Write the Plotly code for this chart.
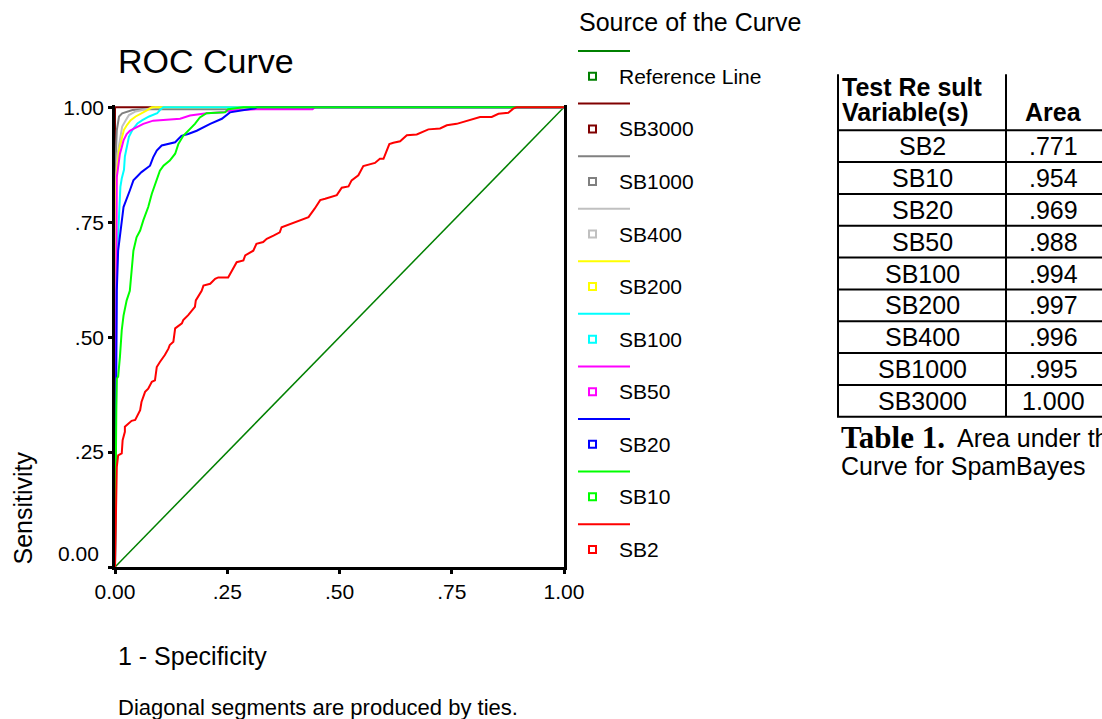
import plotly.graph_objects as go

# ---------------- data ----------------
series_names = ["Reference Line", "SB3000", "SB1000", "SB400", "SB200",
                "SB100", "SB50", "SB20", "SB10", "SB2"]
series_colors = ["#008000", "#800000", "#808080", "#C0C0C0", "#FFFF00",
                 "#00FFFF", "#FF00FF", "#0000FF", "#00FF00", "#FF0000"]

ref_fpr = [0, 1]
ref_tpr = [0, 1]

sb3000_fpr = [0, 0, 1]
sb3000_tpr = [0, 1, 1]

sb1000_fpr = [0, 0, 0.004, 0.009, 0.016, 0.027, 0.039, 0.061, 0.254, 0.26, 1]
sb1000_tpr = [0, 0.85, 0.95, 0.980, 0.987, 0.991, 0.994, 0.996, 0.996, 1.0, 1]

sb400_fpr = [0, 0, 0.006, 0.013, 0.016, 0.024, 0.031, 0.046, 0.061, 0.08, 0.09, 1]
sb400_tpr = [0, 0.80, 0.90, 0.936, 0.958, 0.972, 0.983, 0.991, 0.994, 0.997, 1.0, 1]

sb200_fpr = [0, 0, 0.004, 0.009, 0.016, 0.020, 0.027, 0.035, 0.046, 0.061, 0.070, 0.082, 1]
sb200_tpr = [0, 0.78, 0.86, 0.907, 0.936, 0.951, 0.962, 0.972, 0.980, 0.987, 0.993, 1.0, 1]

sb100_fpr = [0, 0.003, 0.006, 0.009, 0.012, 0.015, 0.020, 0.022, 0.027, 0.031, 0.039,
             0.050, 0.061, 0.076, 0.094, 0.100, 0.108, 1]
sb100_tpr = [0, 0.60, 0.70, 0.783, 0.827, 0.845, 0.864, 0.893, 0.922, 0.936, 0.951,
             0.965, 0.972, 0.980, 0.987, 0.994, 1.0, 1]

sb50_fpr = [0, 0.002, 0.004, 0.004, 0.007, 0.011, 0.015, 0.019, 0.026, 0.033, 0.041,
            0.063, 0.085, 0.145, 0.167, 0.204, 0.241, 0.256, 0.316, 0.44, 0.445, 1]
sb50_tpr = [0, 0.45, 0.60, 0.848, 0.870, 0.899, 0.913, 0.928, 0.942, 0.949, 0.953,
            0.964, 0.971, 0.975, 0.982, 0.987, 0.989, 0.993, 0.996, 0.996, 1.0, 1]

sb20_fpr = [0, 0.002, 0.003, 0.004, 0.007, 0.015, 0.019, 0.033, 0.041, 0.059, 0.078,
            0.085, 0.093, 0.104, 0.134, 0.148, 0.163, 0.182, 0.212, 0.238, 0.256,
            0.312, 0.316, 1]
sb20_tpr = [0, 0.30, 0.435, 0.601, 0.688, 0.746, 0.783, 0.819, 0.841, 0.859, 0.873,
            0.891, 0.906, 0.917, 0.924, 0.938, 0.942, 0.949, 0.964, 0.975, 0.989,
            0.998, 1.0, 1]

sb10_fpr = [0, 0.001, 0.003, 0.004, 0.007, 0.011, 0.015, 0.019, 0.022, 0.026, 0.033,
            0.037, 0.041, 0.048, 0.056, 0.063, 0.074, 0.082, 0.089, 0.100, 0.108,
            0.122, 0.134, 0.141, 0.152, 0.163, 0.178, 0.189, 0.204, 0.245, 0.252,
            0.286, 1]
sb10_tpr = [0, 0.22, 0.35, 0.41, 0.414, 0.457, 0.515, 0.547, 0.559, 0.580, 0.601,
            0.638, 0.688, 0.717, 0.732, 0.754, 0.783, 0.812, 0.833, 0.862, 0.873,
            0.884, 0.899, 0.920, 0.938, 0.949, 0.964, 0.978, 0.987, 0.989, 0.996,
            1.0, 1]

sb2_fpr = [0, 0.002, 0.003, 0.004, 0.007, 0.015, 0.017, 0.022, 0.022, 0.030, 0.037,
           0.045, 0.052, 0.056, 0.059, 0.063, 0.067, 0.074, 0.082, 0.089, 0.093,
           0.100, 0.111, 0.119, 0.122, 0.130, 0.134, 0.149, 0.152, 0.163, 0.171,
           0.178, 0.180, 0.193, 0.197, 0.212, 0.223, 0.230, 0.252, 0.264, 0.271,
           0.286, 0.290, 0.308, 0.315, 0.330, 0.338, 0.353, 0.367, 0.371, 0.390,
           0.408, 0.431, 0.445, 0.457, 0.468, 0.479, 0.494, 0.505, 0.520, 0.527,
           0.542, 0.553, 0.564, 0.579, 0.590, 0.598, 0.611, 0.620, 0.635, 0.650,
           0.672, 0.698, 0.724, 0.739, 0.761, 0.791, 0.813, 0.839, 0.854, 0.876,
           0.887, 0.894, 1]
sb2_tpr = [0, 0.10, 0.218, 0.218, 0.243, 0.247, 0.276, 0.294, 0.305, 0.312, 0.318,
           0.320, 0.334, 0.341, 0.359, 0.370, 0.381, 0.388, 0.403, 0.406, 0.435,
           0.446, 0.461, 0.475, 0.483, 0.490, 0.519, 0.530, 0.537, 0.548, 0.559,
           0.566, 0.580, 0.601, 0.612, 0.616, 0.627, 0.630, 0.630, 0.652, 0.663,
           0.667, 0.678, 0.688, 0.703, 0.707, 0.714, 0.721, 0.728, 0.739, 0.746,
           0.754, 0.761, 0.780, 0.798, 0.801, 0.805, 0.809, 0.825, 0.828, 0.841,
           0.852, 0.872, 0.875, 0.879, 0.888, 0.888, 0.920, 0.923, 0.926, 0.939,
           0.941, 0.952, 0.954, 0.961, 0.964, 0.972, 0.979, 0.979, 0.986, 0.988,
           0.997, 1.0, 1]

series_fpr = [ref_fpr, sb3000_fpr, sb1000_fpr, sb400_fpr, sb200_fpr,
              sb100_fpr, sb50_fpr, sb20_fpr, sb10_fpr, sb2_fpr]
series_tpr = [ref_tpr, sb3000_tpr, sb1000_tpr, sb400_tpr, sb200_tpr,
              sb100_tpr, sb50_tpr, sb20_tpr, sb10_tpr, sb2_tpr]

tick_vals = [0, 0.25, 0.5, 0.75, 1.0]
x_tick_text = ["0.00", ".25", ".50", ".75", "1.00"]
y_tick_text = ["", ".25", ".50", ".75", "1.00"]

table_vars = ["SB2", "SB10", "SB20", "SB50", "SB100", "SB200", "SB400", "SB1000", "SB3000"]
table_area = [".771", ".954", ".969", ".988", ".994", ".997", ".996", ".995", "1.000"]

# ---------------- layout geometry (pixels) ----------------
W, H = 1102, 719
PL, PR = 115, 564          # plot area left/right
P0, P1 = 567, 107          # y pixel of 0 and of 1.0
YTOP = 1.005
PT = P0 - (P0 - P1) * YTOP

SANS = "Liberation Sans, Arial, sans-serif"
SERIF = "Liberation Serif, Times New Roman, serif"


def xp(px):
    return (px - PL) / (PR - PL)


def yp(py):
    return (P0 - py) / (P0 - PT)


fig = go.Figure()
for name, color, fx, fy in zip(series_names, series_colors, series_fpr, series_tpr):
    fig.add_trace(go.Scatter(
        x=fx, y=fy, mode="lines", name=name,
        line=dict(color=color, width=1.5 if name == "Reference Line" else 2),
        showlegend=False, hoverinfo="skip"))

shapes = []
annotations = []


def text(s, px, py, size, xanchor="left", bold=False, family=SANS, angle=0, yanchor="middle"):
    annotations.append(dict(
        text=("<b>%s</b>" % s) if bold else s,
        x=xp(px), y=yp(py), xref="paper", yref="paper",
        xanchor=xanchor, yanchor=yanchor, showarrow=False, textangle=angle,
        font=dict(family=family, size=size, color="black")))


def hline(x0, x1, y, color="black", width=2):
    shapes.append(dict(type="line", xref="paper", yref="paper",
                       x0=xp(x0), x1=xp(x1), y0=yp(y), y1=yp(y),
                       line=dict(color=color, width=width)))


def vline(x, y0, y1, color="black", width=2):
    shapes.append(dict(type="line", xref="paper", yref="paper",
                       x0=xp(x), x1=xp(x), y0=yp(y0), y1=yp(y1),
                       line=dict(color=color, width=width)))


# titles
text("ROC Curve", 116, 61, 34)
text("1 - Specificity", 116, 656, 25)
text("Sensitivity", 22, 567, 25, xanchor="center", angle=-90, yanchor="bottom")
text("Diagonal segments are produced by ties.", 116, 708, 22)
text("0.00", 101, 553, 21, xanchor="right")

# legend
text("Source of the Curve", 577, 22, 25)
for k, (name, color) in enumerate(zip(series_names, series_colors)):
    ly = 50.7 + 52.6 * k
    ty = 76.0 + 52.6 * k
    hline(578, 630, ly, color=color, width=2)
    shapes.append(dict(type="rect", xref="paper", yref="paper",
                       x0=xp(589), x1=xp(596), y0=yp(ty - 3.5), y1=yp(ty + 3.5),
                       line=dict(color=color, width=2), fillcolor="white"))
    text(name, 617, ty, 21)

# table
row_h = 31.85
hdr_bottom = 130
n_rows = len(table_vars)
tbl_bottom = hdr_bottom + row_h * n_rows
vline(838, 74, tbl_bottom)
vline(1006, 74, tbl_bottom)
for k in range(n_rows + 1):
    hline(837, 1102, hdr_bottom + row_h * k)
text("Test Re sult", 840, 87, 25, bold=True)
text("Variable(s)", 840, 112, 25, bold=True)
text("Area", 1053, 112, 25, xanchor="center", bold=True)
for k, (v, a) in enumerate(zip(table_vars, table_area)):
    cy = hdr_bottom + row_h * k + row_h / 2
    text(v, 922, cy, 25, xanchor="center")
    text(a, 1053, cy, 25, xanchor="center")

text("Table 1.", 839, 437, 31, bold=True, family=SERIF)
text("Area under the ROC", 955, 438, 25)
text("Curve for SpamBayes", 839, 466, 25)

axis_common = dict(
    showgrid=False, zeroline=False, showline=True, linecolor="black", linewidth=2.5,
    ticks="outside", ticklen=4, tickwidth=3, tickcolor="black",
    tickvals=tick_vals, tickfont=dict(family=SANS, size=21, color="black"),
    fixedrange=True)

fig.update_layout(
    width=W, height=H,
    margin=dict(l=PL, r=W - PR, t=PT, b=H - P0, pad=0),
    paper_bgcolor="white", plot_bgcolor="white",
    xaxis=dict(range=[0, 1], ticktext=x_tick_text, **axis_common),
    yaxis=dict(range=[0, YTOP], ticktext=y_tick_text, mirror=True, **axis_common),
    shapes=shapes, annotations=annotations,
    showlegend=False,
)

fig.write_html("out.html")
